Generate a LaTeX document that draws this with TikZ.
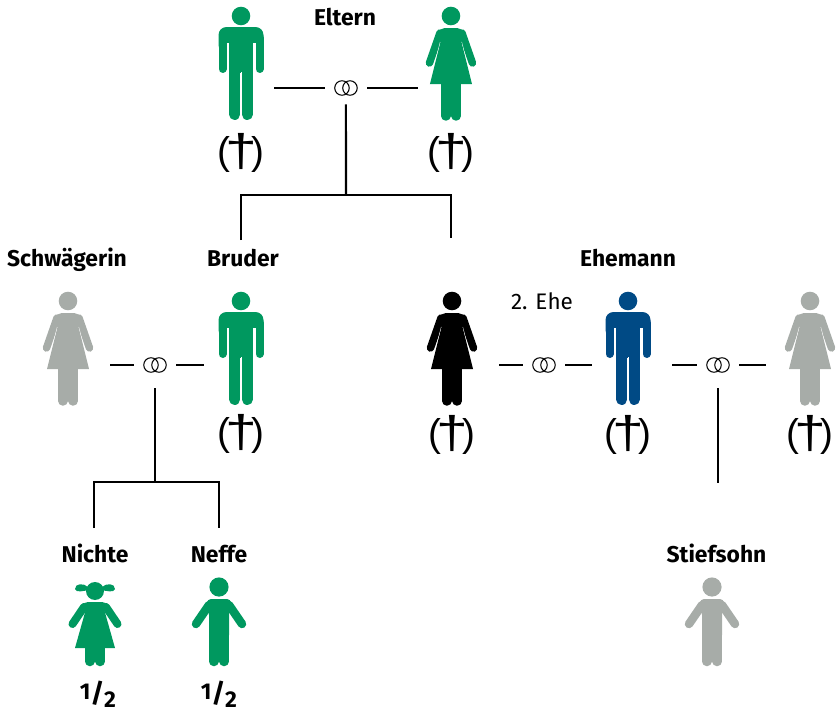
\documentclass[tikz,border=0pt]{standalone}
\usepackage{fontspec}
\setmainfont{Fira Sans}
\newfontfamily\kreuzfont{Liberation Sans}
\usetikzlibrary{positioning}
\definecolor{figgreen}{RGB}{0,152,95}
\definecolor{figblue}{RGB}{0,74,133}
\definecolor{figgray}{RGB}{167,172,168}
\tikzstyle{figbox} = [rectangle, minimum height=0.5cm, inner sep=0pt]
\tikzstyle{ring} = [rectangle, minimum width=0.84cm, minimum height=0.64cm, inner sep=0pt, path picture={
	\draw [line width=0.6pt] ([xshift=-0.08cm]path picture bounding box.center) circle [radius=0.145cm];
	\draw [line width=0.6pt] ([xshift=0.08cm]path picture bounding box.center) circle [radius=0.145cm];}]
\tikzstyle{link} = [line width=1.15pt]
\tikzstyle{perslabel} = [font=\bfseries\fontsize{13}{15}\selectfont, inner sep=0pt, anchor=base]
\tikzstyle{ehelabel} = [font=\fontsize{12.8}{15}\selectfont, inner sep=0pt, anchor=base]
\tikzstyle{dead} = [font=\kreuzfont\fontsize{22}{24}\selectfont, inner sep=0pt]
\tikzstyle{erbteil} = [font=\bfseries\fontsize{13}{15}\selectfont, inner sep=0pt, anchor=base]
\newcommand{\hefte}{\raisebox{1.2pt}{1}\raisebox{-0.5pt}{\fontsize{15}{15}\selectfont/}\raisebox{-3.2pt}{2}}
\newcommand{\totkreuz}{(\kern-3.2pt\raisebox{-1.2pt}{\fontsize{26}{26}\selectfont\scalebox{1.25}[1]{†}}\kern-3.2pt)}
\tikzset{
	pics/man/.style={code={
		\fill [#1] (0,-72) circle [radius=0.186cm];
		\fill [#1, rounded corners=0.16cm] (-22.5,-61) rectangle (22.5,-35);
		\fill [white] (-14.5,-45) rectangle (-11.7,-30);
		\fill [white] (14.5,-45) rectangle (11.7,-30);
		\fill [#1] (-11.7,-58) rectangle (11.7,-15);
		\draw [#1, line width=0.16cm, line cap=round] (-18.5,-50) -- (-18.5,-19);
		\draw [#1, line width=0.16cm, line cap=round] (18.5,-50) -- (18.5,-19);
		\draw [#1, line width=0.22cm, line cap=round] (-6.2,-20) -- (-6.2,26.5);
		\draw [#1, line width=0.22cm, line cap=round] (6.2,-20) -- (6.2,26.5);
		\draw [white, line width=0.5pt] (0,-16) -- (0,31);
	}},
	pics/woman/.style={code={
		\fill [#1] (0,-72) circle [radius=0.186cm];
		\fill [#1, rounded corners=0.1cm] (-10,-46) -- (-15,-54) -- (-10,-60) -- (10,-60) -- (15,-54) -- (10,-46) -- cycle;
		\draw [#1, line width=0.15cm, line cap=round] (-11,-55) -- (-21.5,-25);
		\draw [#1, line width=0.15cm, line cap=round] (11,-55) -- (21.5,-25);
		\draw [white, line width=0.5pt] (-10.5,-46) -- (-17.5,-19);
		\draw [white, line width=0.5pt] (10.5,-46) -- (17.5,-19);
		\fill [#1] (-10.5,-50) -- (10.5,-50) -- (10.5,-46) -- (21,-4) -- (-21,-4) -- (-10.5,-46) -- cycle;
		\draw [#1, line width=0.19cm, line cap=round] (-5.2,-5) -- (-5.2,28);
		\draw [#1, line width=0.19cm, line cap=round] (5.2,-5) -- (5.2,28);
	}},
	pics/boy/.style={code={
		\fill [#1] (0,-38) circle [radius=0.192cm];
		\fill [#1, rounded corners=0.08cm] (-12,-26) -- (12,-26) -- (12,-18) -- (10,-14) -- (10,14) -- (-10,14) -- (-10,-14) -- (-12,-18) -- cycle;
		\draw [#1, line width=0.17cm, line cap=round] (-10,-20) -- (-23,-1);
		\draw [#1, line width=0.17cm, line cap=round] (10,-20) -- (23,-1);
		\draw [#1, line width=0.19cm, line cap=round] (-5.2,5) -- (-5.2,36.5);
		\draw [#1, line width=0.19cm, line cap=round] (5.2,5) -- (5.2,36.5);
	}},
	pics/girl/.style={code={
		\fill [#1] (0,-34) circle [radius=0.18cm];
		\fill [#1] (-7,-38) .. controls (-11,-42) and (-20,-42) .. (-20,-36) .. controls (-19,-32) and (-11,-34) .. (-7,-35) -- cycle;
		\fill [#1] (7,-38) .. controls (11,-42) and (20,-42) .. (20,-36) .. controls (19,-32) and (11,-34) .. (7,-35) -- cycle;
		\fill [#1, rounded corners=0.08cm] (-9,-14) -- (-14,-18) -- (-11,-23) -- (11,-23) -- (14,-18) -- (9,-14) -- cycle;
		\fill [#1] (-9,-16) -- (9,-16) -- (20,23) -- (-20,23) -- cycle;
		\draw [#1, line width=0.16cm, line cap=round] (-11,-18) -- (-22.5,-1);
		\draw [#1, line width=0.16cm, line cap=round] (11,-18) -- (22.5,-1);
		\draw [#1, line width=0.19cm, line cap=round] (-5.2,20) -- (-5.2,36.5);
		\draw [#1, line width=0.19cm, line cap=round] (5.2,20) -- (5.2,36.5);
	}}
}
\begin{document}
\begin{tikzpicture}[x=0.02cm, y=-0.02cm, node distance=1.3cm]
	\useasboundingbox (0,0) rectangle (836,710);
	\node (vater) [figbox, minimum width=1.32cm] at (241,88) {};
	\node (ringa) [ring, right of=vater, node distance=2.1cm] {};
	\node (mutter) [figbox, minimum width=1.32cm, right of=ringa, node distance=2.1cm] {};
	\node (eltern) [perslabel] at (345,25.5) {Eltern};
	\node (dvater) [dead, below of=vater] {\totkreuz};
	\node (dmutter) [dead, below of=mutter] {\totkreuz};
	\node (schwaegerin) [figbox, minimum width=1.68cm] at (68,365) {};
	\node (ringb) [ring, minimum height=0.92cm] at (155,365) {};
	\node (bruder) [figbox, minimum width=1.48cm] at (241,365) {};
	\node (frau) [figbox, minimum width=1.88cm] at (452,365) {};
	\node (ringc) [ring] at (544,365) {};
	\node (ehemann) [figbox, minimum width=1.44cm] at (628,365) {};
	\node (ringd) [ring, minimum height=0.92cm] at (718,365) {};
	\node (exfrau) [figbox, minimum width=1.76cm] at (810,365) {};
	\node (lschwaegerin) [perslabel] at (67,266) {Schwägerin};
	\node (lbruder) [perslabel] at (243,266) {Bruder};
	\node (lehemann) [perslabel] at (628,266) {Ehemann};
	\node (lehe) [ehelabel] at (542,309) {2. Ehe};
	\node (dbruder) [dead] at (241,434) {\totkreuz};
	\node (dfrau) [dead] at (452,435) {\totkreuz};
	\node (dehemann) [dead] at (628,435) {\totkreuz};
	\node (dexfrau) [dead] at (810,435) {\totkreuz};
	\node (nichte) [figbox] at (95,625) {};
	\node (neffe) [figbox] at (219,625) {};
	\node (stiefsohn) [figbox] at (712,625) {};
	\node (lnichte) [perslabel] at (95,562) {Nichte};
	\node (lneffe) [perslabel] at (219,562) {Neffe};
	\node (lstiefsohn) [perslabel] at (716.5,562) {Stiefsohn};
	\node (hnichte) [erbteil] at (98,702) {\hefte};
	\node (hneffe) [erbteil] at (219,702) {\hefte};
	\node (fa) [coordinate] at (346,195) {};
	\node (fal) [coordinate] at (241,195) {};
	\node (far) [coordinate] at (451,195) {};
	\node (eal) [coordinate] at (241,240) {};
	\node (ear) [coordinate] at (451,238) {};
	\node (fb) [coordinate] at (155,482) {};
	\node (fbl) [coordinate] at (94,482) {};
	\node (fbr) [coordinate] at (219,482) {};
	\node (ebl) [coordinate] at (94,528) {};
	\node (ebr) [coordinate] at (219,528) {};
	\node (ed) [coordinate] at (718,483) {};
	\pic at (vater) {man=figgreen};
	\pic at (mutter) {woman=figgreen};
	\pic [yshift=-0.16cm] at (schwaegerin) {woman=figgray};
	\pic [yshift=-0.16cm] at (bruder) {man=figgreen};
	\pic [yshift=-0.16cm] at (frau) {woman=black};
	\pic [yshift=-0.16cm] at (ehemann) {man=figblue};
	\pic [yshift=-0.16cm] at (exfrau) {woman=figgray};
	\pic at (nichte) {girl=figgreen};
	\pic at (neffe) {boy=figgreen};
	\pic at (stiefsohn) {boy=figgray};
	\draw [link] (vater)--(ringa);
	\draw [link] (ringa)--(mutter);
	\draw [link] (ringa)--(fa);
	\draw [link] (eal)--(fal)--(far)--(ear);
	\draw [link] (schwaegerin)--(ringb);
	\draw [link] (ringb)--(bruder);
	\draw [link] (ringb)--(fb);
	\draw [link] (ebl)--(fbl)--(fbr)--(ebr);
	\draw [link] (frau)--(ringc);
	\draw [link] (ringc)--(ehemann);
	\draw [link, shorten <=0.16cm] (ehemann)--(ringd);
	\draw [link] (ringd)--(exfrau);
	\draw [link] (ringd)--(ed);
\end{tikzpicture}
\end{document}
